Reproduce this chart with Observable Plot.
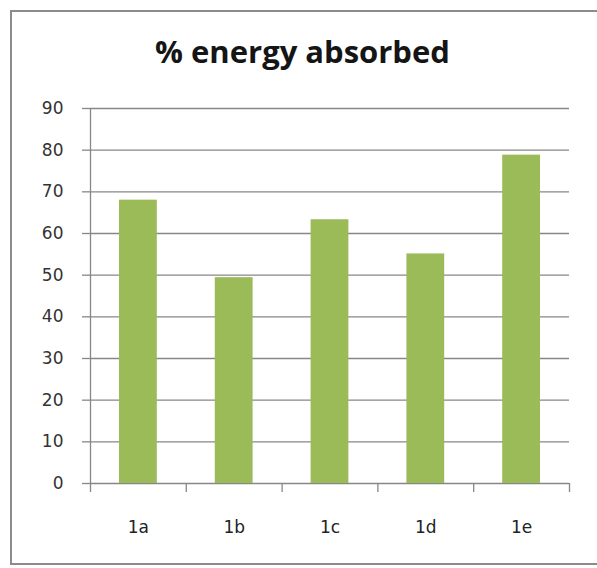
<!DOCTYPE html>
<html><head><meta charset="utf-8">
<script src="https://cdn.jsdelivr.net/npm/d3@7"></script>
<script src="https://cdn.jsdelivr.net/npm/@observablehq/plot@0.6"></script>
<style>
body{margin:0;background:#fff;}
#wrap{position:relative;width:597px;height:568px;overflow:hidden;background:#fff;}
#border{position:absolute;left:10px;top:10px;width:640px;height:555px;border:2px solid #8c8c8c;box-sizing:border-box;pointer-events:none}
#title{position:absolute;left:4px;top:33px;width:597px;text-align:center;font:bold 31px "Open Sans", Lato, sans-serif;line-height:37px;color:#151515}
#chart{position:absolute;left:0;top:0}
#chart svg text{font-family:"DejaVu Sans", Verdana, sans-serif}
</style></head>
<body>
<div id="wrap">
  <div id="chart"></div>
  <div id="border"></div>
  <div id="title">% energy absorbed</div>
</div>
<script>
const categories = ["1a", "1b", "1c", "1d", "1e"];
const values = [68.0, 49.4, 63.3, 55.1, 78.8];
const yTicks = [0, 10, 20, 30, 40, 50, 60, 70, 80, 90];

const data = categories.map((c, i) => ({c, i, v: values[i]}));
const bounds = d3.range(categories.length + 1);
const grid = "#878787";
const font = "'DejaVu Sans', Verdana, sans-serif";

const plot = Plot.plot({
  width: 597,
  height: 568,
  marginTop: 108,
  marginLeft: 90,
  marginRight: 28,
  marginBottom: 85,
  style: {fontFamily: font, fontSize: "17px", color: "#333", background: "transparent"},
  x: {domain: [0, categories.length], axis: null},
  y: {domain: [0, 90], axis: null},
  marks: [
    Plot.ruleY(yTicks, {stroke: grid, strokeWidth: 1.3}),
    Plot.axisY({ticks: yTicks, label: null, tickSize: 8, tickPadding: 19, stroke: grid, strokeWidth: 1.3, fontSize: 17, fontFamily: font}),
    Plot.rectY(data, {x1: d => d.i, x2: d => d.i + 1, y: "v", insetLeft: 29, insetRight: 29, fill: "#9bbb59"}),
    Plot.ruleX([0], {y1: 0, y2: 90, stroke: grid, strokeWidth: 1.3}),
    Plot.axisX({ticks: bounds, label: null, tickSize: 9, tickFormat: () => "", stroke: grid, strokeWidth: 1.3}),
    Plot.text(data, {x: d => d.i + 0.5, y: 0, dy: 44, text: "c", fontSize: 17, fontFamily: font, fill: "#222"})
  ]
});
document.getElementById("chart").appendChild(plot);
</script>
</body></html>
